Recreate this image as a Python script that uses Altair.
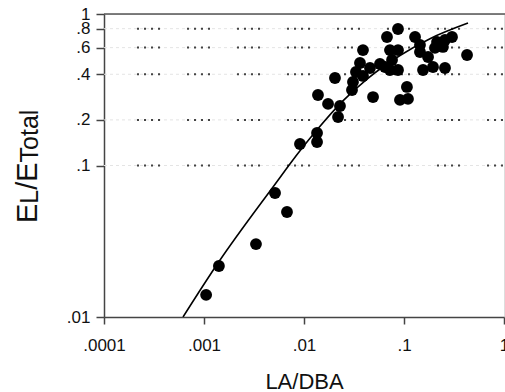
import altair as alt
import pandas as pd

# scatter points (LA/DBA, EL/ETotal)
pt_x = [0.00105, 0.00141, 0.00331, 0.00513, 0.00676, 0.00912, 0.0135, 0.0135, 0.0138, 0.0174,
        0.0229, 0.0219, 0.0204, 0.049, 0.0389, 0.0363, 0.0389, 0.0331, 0.0309, 0.0302,
        0.0457, 0.0575, 0.0676, 0.0871, 0.0724, 0.0871, 0.0759, 0.0724, 0.0871, 0.0646,
        0.0912, 0.1096, 0.107, 0.129, 0.1445, 0.1445, 0.174, 0.155, 0.195, 0.204,
        0.214, 0.257, 0.302, 0.245, 0.257, 0.427]
pt_y = [0.014, 0.0217, 0.0303, 0.0658, 0.0493, 0.1387, 0.164, 0.143, 0.292, 0.255,
        0.247, 0.209, 0.378, 0.283, 0.578, 0.475, 0.39, 0.414, 0.356, 0.315,
        0.44, 0.468, 0.705, 0.796, 0.578, 0.578, 0.497, 0.427, 0.427, 0.447,
        0.271, 0.275, 0.33, 0.705, 0.624, 0.561, 0.52, 0.427, 0.447, 0.597,
        0.653, 0.674, 0.705, 0.606, 0.44, 0.536]

# fitted curve
fit_x = [0.000617, 0.00138, 0.0049, 0.00912, 0.0135, 0.0245, 0.0427, 0.0912, 0.182, 0.4365]
fit_y = [0.01, 0.0227, 0.0721, 0.125, 0.172, 0.267, 0.372, 0.532, 0.687, 0.871]

x_ticks = [0.0001, 0.001, 0.01, 0.1, 1]
y_ticks = [0.01, 0.1, 0.2, 0.4, 0.6, 0.8, 1]
grid_y = [0.1, 0.2, 0.4, 0.6, 0.8]
title_parts = ["E", "L", "/E", "Total"]

FONT = "Liberation Sans"
label_expr = "replace(toString(datum.value), /^0\\./, '.')"

xscale = alt.Scale(type="log", domain=[0.0001, 1], nice=False)
yscale = alt.Scale(type="log", domain=[0.01, 1], nice=False)

pts = pd.DataFrame({"x": pt_x, "y": pt_y})
fit = pd.DataFrame({"x": fit_x, "y": fit_y})
grid = pd.DataFrame({"y": grid_y})
top = pd.DataFrame({"y": [1]})

xaxis = alt.Axis(values=x_ticks, labelExpr=label_expr, title="LA/DBA", grid=False,
                 tickSize=7, tickColor="#444", domainColor="#444", domainWidth=1.5, tickWidth=1.5,
                 labelFont=FONT, labelFontSize=17, labelColor="#111", labelPadding=13,
                 labelFlush=False, labelOverlap=False,
                 titleFont=FONT, titleFontSize=22, titleFontWeight="normal", titleColor="#111",
                 titleY=71, titleBaseline="alphabetic")
yaxis = alt.Axis(values=y_ticks, labelExpr=label_expr, title=None, grid=False,
                 tickSize=8, tickColor="#444", domainColor="#444", domainWidth=1.5, tickWidth=1.5,
                 labelFont=FONT, labelFontSize=17, labelColor="#111", labelPadding=6,
                 labelOverlap=False, labelFlush=False)

faint = alt.Chart(grid).mark_rule(color="#e4e4e4", strokeDash=[3, 3], strokeWidth=1).encode(
    y=alt.Y("y:Q", scale=yscale, axis=yaxis),
    x=alt.value(0), x2=alt.value(400))

dots = alt.Chart(grid).mark_rule(color="#444", strokeDash=[2, 5, 2, 5, 2, 5, 2, 27], strokeWidth=2).encode(
    y=alt.Y("y:Q", scale=yscale),
    x=alt.value(33), x2=alt.value(400))

frame = alt.Chart(top).mark_rule(color="#555", strokeWidth=1.5).encode(
    y=alt.Y("y:Q", scale=yscale),
    x=alt.value(0), x2=alt.value(401))

line = alt.Chart(fit).mark_line(color="black", strokeWidth=1.6, interpolate="monotone", clip=True).encode(
    x=alt.X("x:Q", scale=xscale, axis=xaxis),
    y=alt.Y("y:Q", scale=yscale))

scatter = alt.Chart(pts).mark_circle(color="black", size=140, opacity=1).encode(
    x=alt.X("x:Q", scale=xscale),
    y=alt.Y("y:Q", scale=yscale))

# y-axis title with subscripts
sizes = [29, 25, 29, 25]
xs = [-67, -66, -67, -66]
ys = [209, 189.7, 175.8, 148.4]
tlayers = []
for t, s, xx, yy in zip(title_parts, sizes, xs, ys):
    tlayers.append(
        alt.Chart(pd.DataFrame({"t": [t]})).mark_text(
            angle=270, align="left", baseline="alphabetic", fontSize=s, font=FONT, color="#111"
        ).encode(text="t:N", x=alt.value(xx), y=alt.value(yy))
    )

chart = alt.layer(faint, dots, frame, line, scatter, *tlayers).properties(
    width=400, height=303,
    autosize=alt.AutoSizeParams(type="none"),
    padding={"left": 104, "top": 14, "right": 1, "bottom": 75},
).configure_view(stroke=None).configure(background="white")

chart.save("out.html", embed_options={"renderer": "svg", "actions": False})
